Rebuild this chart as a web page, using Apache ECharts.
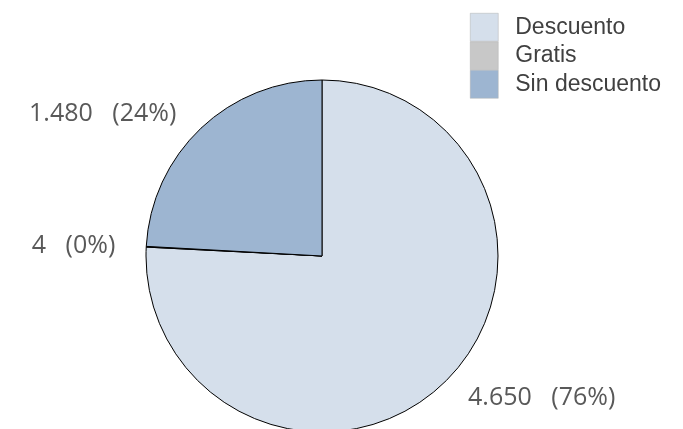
<!DOCTYPE html>
<html>
<head>
<meta charset="utf-8">
<script src="https://cdn.jsdelivr.net/npm/echarts@6/dist/echarts.min.js"></script>
<style>
  html, body { margin: 0; padding: 0; background: #fff; }
  #chart { width: 683px; height: 429px; }
</style>
</head>
<body>
<div id="chart"></div>
<script>
const categories = ['Descuento', 'Gratis', 'Sin descuento'];
const values = [4650, 4, 1480];
const colors = ['#d5dfeb', '#c8c8c8', '#9db5d1'];

const total = values.reduce((a, b) => a + b, 0);
const fmt = n => n.toLocaleString('de-DE');

const chart = echarts.init(document.getElementById('chart'));
chart.setOption({
  animation: false,
  legend: {
    orient: 'vertical',
    left: 470,
    top: 13,
    padding: 0,
    itemWidth: 28,
    itemHeight: 28,
    itemGap: 0,
    icon: 'rect',
    itemStyle: { borderColor: '#b0b0b0', borderWidth: 0.5 },
    textStyle: {
      fontFamily: 'Liberation Sans, Arial',
      fontSize: 23,
      color: '#404040',
      padding: [0, 0, 0, 12],
    },
    data: categories,
  },
  series: [{
    type: 'pie',
    center: [322, 256],
    radius: 176,
    startAngle: 90,
    clockwise: true,
    avoidLabelOverlap: false,
    itemStyle: { borderColor: '#000', borderWidth: 1 },
    label: {
      show: true,
      position: 'outside',
      fontFamily: 'Open Sans',
      fontSize: 25,
      color: '#595959',
      formatter: p => fmt(p.value) + '   (' + Math.round(p.value / total * 100) + '%)',
    },
    labelLine: { show: false, length: 20, length2: 6 },
    emphasis: { disabled: true },
    data: categories.map((name, i) => ({
      name,
      value: values[i],
      itemStyle: { color: colors[i] },
    })),
  }],
});
</script>
</body>
</html>
